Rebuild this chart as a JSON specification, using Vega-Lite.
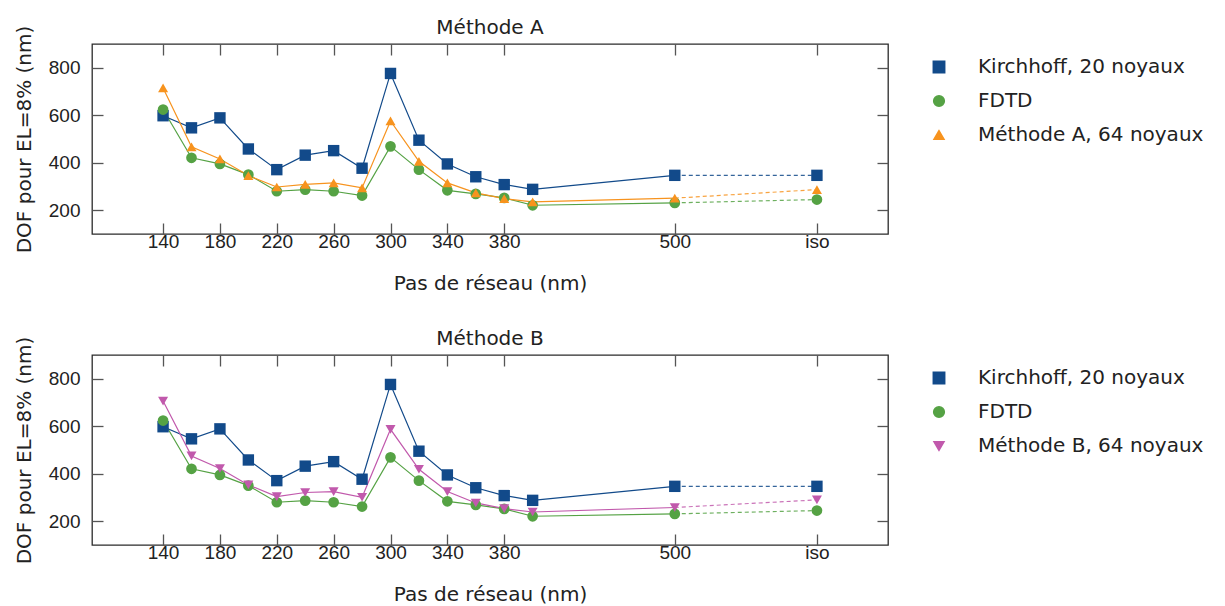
{
  "$schema": "https://vega.github.io/schema/vega-lite/v6.json",
  "padding": {"left": 13, "top": 17, "right": 5, "bottom": 2},
  "background": "white",
  "spacing": 34,
  "config": {
    "view": {"stroke": "#2b2b2b", "strokeWidth": 1.3},
    "axis": {"grid": false, "domain": false, "offset": -11, "tickColor": "#555555", "tickWidth": 1.3, "tickSize": 11, "labelFont": "Liberation Sans", "labelFontSize": 19, "labelColor": "#222222", "titleFont": "DejaVu Sans", "titleFontSize": 20, "titleFontWeight": "normal", "titleColor": "#222222"},
    "legend": {"padding": 0, "labelFont": "DejaVu Sans", "labelFontSize": 20, "labelColor": "#222222", "labelOffset": 29, "labelLimit": 400, "rowPadding": 14, "symbolOpacity": 1},
    "title": {"font": "DejaVu Sans", "fontSize": 20, "fontWeight": "normal", "color": "#222222", "offset": -13}
  },
  "resolve": {"scale": {"color": "independent", "shape": "independent", "size": "independent"}, "legend": {"color": "independent", "shape": "independent"}},
  "data": {"values": [
    {"panel": "AB", "s": "Kirchhoff, 20 noyaux", "pas": 140, "dof": 598},
    {"panel": "AB", "s": "Kirchhoff, 20 noyaux", "pas": 160, "dof": 547},
    {"panel": "AB", "s": "Kirchhoff, 20 noyaux", "pas": 180, "dof": 589},
    {"panel": "AB", "s": "Kirchhoff, 20 noyaux", "pas": 200, "dof": 458},
    {"panel": "AB", "s": "Kirchhoff, 20 noyaux", "pas": 220, "dof": 371},
    {"panel": "AB", "s": "Kirchhoff, 20 noyaux", "pas": 240, "dof": 432},
    {"panel": "AB", "s": "Kirchhoff, 20 noyaux", "pas": 260, "dof": 451},
    {"panel": "AB", "s": "Kirchhoff, 20 noyaux", "pas": 280, "dof": 377},
    {"panel": "AB", "s": "Kirchhoff, 20 noyaux", "pas": 300, "dof": 776},
    {"panel": "AB", "s": "Kirchhoff, 20 noyaux", "pas": 320, "dof": 495},
    {"panel": "AB", "s": "Kirchhoff, 20 noyaux", "pas": 340, "dof": 395},
    {"panel": "AB", "s": "Kirchhoff, 20 noyaux", "pas": 360, "dof": 341},
    {"panel": "AB", "s": "Kirchhoff, 20 noyaux", "pas": 380, "dof": 308},
    {"panel": "AB", "s": "Kirchhoff, 20 noyaux", "pas": 400, "dof": 288},
    {"panel": "AB", "s": "Kirchhoff, 20 noyaux", "pas": 500, "dof": 347},
    {"panel": "AB", "s": "Kirchhoff, 20 noyaux", "pas": 600, "dof": 347},
    {"panel": "AB", "s": "FDTD", "pas": 140, "dof": 624},
    {"panel": "AB", "s": "FDTD", "pas": 160, "dof": 421},
    {"panel": "AB", "s": "FDTD", "pas": 180, "dof": 395},
    {"panel": "AB", "s": "FDTD", "pas": 200, "dof": 350},
    {"panel": "AB", "s": "FDTD", "pas": 220, "dof": 280},
    {"panel": "AB", "s": "FDTD", "pas": 240, "dof": 287},
    {"panel": "AB", "s": "FDTD", "pas": 260, "dof": 280},
    {"panel": "AB", "s": "FDTD", "pas": 280, "dof": 262},
    {"panel": "AB", "s": "FDTD", "pas": 300, "dof": 469},
    {"panel": "AB", "s": "FDTD", "pas": 320, "dof": 371},
    {"panel": "AB", "s": "FDTD", "pas": 340, "dof": 284},
    {"panel": "AB", "s": "FDTD", "pas": 360, "dof": 269},
    {"panel": "AB", "s": "FDTD", "pas": 380, "dof": 252},
    {"panel": "AB", "s": "FDTD", "pas": 400, "dof": 221},
    {"panel": "AB", "s": "FDTD", "pas": 500, "dof": 231},
    {"panel": "AB", "s": "FDTD", "pas": 600, "dof": 245},
    {"panel": "A", "s": "Méthode A, 64 noyaux", "pas": 140, "dof": 715},
    {"panel": "A", "s": "Méthode A, 64 noyaux", "pas": 160, "dof": 467},
    {"panel": "A", "s": "Méthode A, 64 noyaux", "pas": 180, "dof": 416},
    {"panel": "A", "s": "Méthode A, 64 noyaux", "pas": 200, "dof": 346},
    {"panel": "A", "s": "Méthode A, 64 noyaux", "pas": 220, "dof": 298},
    {"panel": "A", "s": "Méthode A, 64 noyaux", "pas": 240, "dof": 309},
    {"panel": "A", "s": "Méthode A, 64 noyaux", "pas": 260, "dof": 315},
    {"panel": "A", "s": "Méthode A, 64 noyaux", "pas": 280, "dof": 294},
    {"panel": "A", "s": "Méthode A, 64 noyaux", "pas": 300, "dof": 576},
    {"panel": "A", "s": "Méthode A, 64 noyaux", "pas": 320, "dof": 406},
    {"panel": "A", "s": "Méthode A, 64 noyaux", "pas": 340, "dof": 315},
    {"panel": "A", "s": "Méthode A, 64 noyaux", "pas": 360, "dof": 273},
    {"panel": "A", "s": "Méthode A, 64 noyaux", "pas": 380, "dof": 249},
    {"panel": "A", "s": "Méthode A, 64 noyaux", "pas": 400, "dof": 235},
    {"panel": "A", "s": "Méthode A, 64 noyaux", "pas": 500, "dof": 251},
    {"panel": "A", "s": "Méthode A, 64 noyaux", "pas": 600, "dof": 287},
    {"panel": "B", "s": "Méthode B, 64 noyaux", "pas": 140, "dof": 706},
    {"panel": "B", "s": "Méthode B, 64 noyaux", "pas": 160, "dof": 475},
    {"panel": "B", "s": "Méthode B, 64 noyaux", "pas": 180, "dof": 422},
    {"panel": "B", "s": "Méthode B, 64 noyaux", "pas": 200, "dof": 353},
    {"panel": "B", "s": "Méthode B, 64 noyaux", "pas": 220, "dof": 304},
    {"panel": "B", "s": "Méthode B, 64 noyaux", "pas": 240, "dof": 321},
    {"panel": "B", "s": "Méthode B, 64 noyaux", "pas": 260, "dof": 325},
    {"panel": "B", "s": "Méthode B, 64 noyaux", "pas": 280, "dof": 301},
    {"panel": "B", "s": "Méthode B, 64 noyaux", "pas": 300, "dof": 587},
    {"panel": "B", "s": "Méthode B, 64 noyaux", "pas": 320, "dof": 419},
    {"panel": "B", "s": "Méthode B, 64 noyaux", "pas": 340, "dof": 325},
    {"panel": "B", "s": "Méthode B, 64 noyaux", "pas": 360, "dof": 277},
    {"panel": "B", "s": "Méthode B, 64 noyaux", "pas": 380, "dof": 253},
    {"panel": "B", "s": "Méthode B, 64 noyaux", "pas": 400, "dof": 239},
    {"panel": "B", "s": "Méthode B, 64 noyaux", "pas": 500, "dof": 258},
    {"panel": "B", "s": "Méthode B, 64 noyaux", "pas": 600, "dof": 290}
  ]},
  "vconcat": [
    {
      "width": 796, "height": 190,
      "title": {"text": "Méthode A", "anchor": "middle"},
      "transform": [{"filter": "indexof(datum.panel, 'A') >= 0"}],
      "resolve": {"axis": {"x": "independent", "y": "independent"}},
      "layer": [
        {
          "transform": [{"filter": "datum.pas <= 500"}],
          "mark": {"type": "line", "strokeWidth": 1.2},
          "encoding": {
            "x": {"field": "pas", "type": "quantitative", "scale": {"domain": [90, 650], "nice": false, "zero": false}, "axis": {"orient": "top", "values": [140, 180, 220, 260, 300, 340, 380, 500, 600], "labels": false, "title": null}},
            "y": {"field": "dof", "type": "quantitative", "scale": {"domain": [100, 900], "nice": false, "zero": false}, "axis": {"orient": "right", "values": [200, 400, 600, 800], "labels": false, "title": null}},
            "color": {"field": "s", "type": "nominal", "scale": {"domain": ["Kirchhoff, 20 noyaux", "FDTD", "Méthode A, 64 noyaux"], "range": ["#124a8a", "#55a244", "#f7931e"]}, "legend": {"title": null, "orient": "none", "legendX": 837, "legendY": 13}}
          }
        },
        {
          "transform": [{"filter": "datum.pas >= 500"}],
          "mark": {"type": "line", "strokeWidth": 1.2, "strokeDash": [4, 3], "opacity": 0.85},
          "encoding": {
            "x": {"field": "pas", "type": "quantitative", "scale": {"domain": [90, 650], "nice": false, "zero": false}, "axis": null},
            "y": {"field": "dof", "type": "quantitative", "scale": {"domain": [100, 900], "nice": false, "zero": false}, "axis": null},
            "color": {"field": "s", "type": "nominal", "scale": {"domain": ["Kirchhoff, 20 noyaux", "FDTD", "Méthode A, 64 noyaux"], "range": ["#124a8a", "#55a244", "#f7931e"]}, "legend": {"title": null, "orient": "none", "legendX": 837, "legendY": 13}}
          }
        },
        {
          "mark": {"type": "point", "filled": true, "opacity": 1},
          "encoding": {
            "x": {"field": "pas", "type": "quantitative", "scale": {"domain": [90, 650], "nice": false, "zero": false}, "axis": {"orient": "bottom", "values": [140, 180, 220, 260, 300, 340, 380, 500, 600], "labelExpr": "datum.value == 600 ? 'iso' : datum.label", "labelPadding": -2, "title": "Pas de réseau (nm)", "titlePadding": 22}},
            "y": {"field": "dof", "type": "quantitative", "scale": {"domain": [100, 900], "nice": false, "zero": false}, "axis": {"orient": "left", "values": [200, 400, 600, 800], "labelPadding": 12, "title": "DOF pour EL=8% (nm)", "titlePadding": 14}},
            "color": {"field": "s", "type": "nominal", "scale": {"domain": ["Kirchhoff, 20 noyaux", "FDTD", "Méthode A, 64 noyaux"], "range": ["#124a8a", "#55a244", "#f7931e"]}, "legend": {"title": null, "orient": "none", "legendX": 837, "legendY": 13}},
            "shape": {"field": "s", "type": "nominal", "scale": {"domain": ["Kirchhoff, 20 noyaux", "FDTD", "Méthode A, 64 noyaux"], "range": ["square", "circle", "triangle-up"]}, "legend": {"title": null, "orient": "none", "legendX": 837, "legendY": 13}},
            "size": {"field": "s", "type": "nominal", "scale": {"domain": ["Kirchhoff, 20 noyaux", "FDTD", "Méthode A, 64 noyaux"], "range": [130, 100, 160]}, "legend": null}
          }
        }
      ]
    },
    {
      "width": 796, "height": 190,
      "title": {"text": "Méthode B", "anchor": "middle"},
      "transform": [{"filter": "indexof(datum.panel, 'B') >= 0"}],
      "resolve": {"axis": {"x": "independent", "y": "independent"}},
      "layer": [
        {
          "transform": [{"filter": "datum.pas <= 500"}],
          "mark": {"type": "line", "strokeWidth": 1.2},
          "encoding": {
            "x": {"field": "pas", "type": "quantitative", "scale": {"domain": [90, 650], "nice": false, "zero": false}, "axis": {"orient": "top", "values": [140, 180, 220, 260, 300, 340, 380, 500, 600], "labels": false, "title": null}},
            "y": {"field": "dof", "type": "quantitative", "scale": {"domain": [100, 900], "nice": false, "zero": false}, "axis": {"orient": "right", "values": [200, 400, 600, 800], "labels": false, "title": null}},
            "color": {"field": "s", "type": "nominal", "scale": {"domain": ["Kirchhoff, 20 noyaux", "FDTD", "Méthode B, 64 noyaux"], "range": ["#124a8a", "#55a244", "#c159ac"]}, "legend": {"title": null, "orient": "none", "legendX": 837, "legendY": 13}}
          }
        },
        {
          "transform": [{"filter": "datum.pas >= 500"}],
          "mark": {"type": "line", "strokeWidth": 1.2, "strokeDash": [4, 3], "opacity": 0.85},
          "encoding": {
            "x": {"field": "pas", "type": "quantitative", "scale": {"domain": [90, 650], "nice": false, "zero": false}, "axis": null},
            "y": {"field": "dof", "type": "quantitative", "scale": {"domain": [100, 900], "nice": false, "zero": false}, "axis": null},
            "color": {"field": "s", "type": "nominal", "scale": {"domain": ["Kirchhoff, 20 noyaux", "FDTD", "Méthode B, 64 noyaux"], "range": ["#124a8a", "#55a244", "#c159ac"]}, "legend": {"title": null, "orient": "none", "legendX": 837, "legendY": 13}}
          }
        },
        {
          "mark": {"type": "point", "filled": true, "opacity": 1},
          "encoding": {
            "x": {"field": "pas", "type": "quantitative", "scale": {"domain": [90, 650], "nice": false, "zero": false}, "axis": {"orient": "bottom", "values": [140, 180, 220, 260, 300, 340, 380, 500, 600], "labelExpr": "datum.value == 600 ? 'iso' : datum.label", "labelPadding": -2, "title": "Pas de réseau (nm)", "titlePadding": 22}},
            "y": {"field": "dof", "type": "quantitative", "scale": {"domain": [100, 900], "nice": false, "zero": false}, "axis": {"orient": "left", "values": [200, 400, 600, 800], "labelPadding": 12, "title": "DOF pour EL=8% (nm)", "titlePadding": 14}},
            "color": {"field": "s", "type": "nominal", "scale": {"domain": ["Kirchhoff, 20 noyaux", "FDTD", "Méthode B, 64 noyaux"], "range": ["#124a8a", "#55a244", "#c159ac"]}, "legend": {"title": null, "orient": "none", "legendX": 837, "legendY": 13}},
            "shape": {"field": "s", "type": "nominal", "scale": {"domain": ["Kirchhoff, 20 noyaux", "FDTD", "Méthode B, 64 noyaux"], "range": ["square", "circle", "triangle-down"]}, "legend": {"title": null, "orient": "none", "legendX": 837, "legendY": 13}},
            "size": {"field": "s", "type": "nominal", "scale": {"domain": ["Kirchhoff, 20 noyaux", "FDTD", "Méthode B, 64 noyaux"], "range": [130, 100, 160]}, "legend": null}
          }
        }
      ]
    }
  ]
}
